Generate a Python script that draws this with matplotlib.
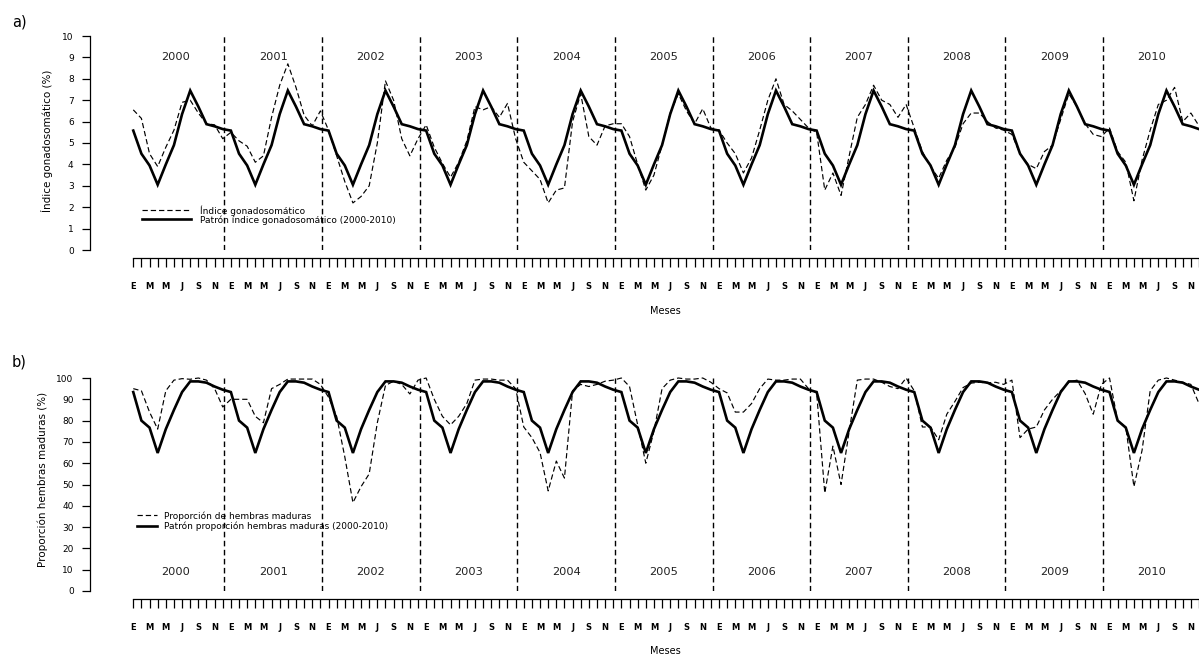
import numpy as np
import matplotlib
matplotlib.use('Agg')
import matplotlib.pyplot as plt
from matplotlib.lines import Line2D

# ---------------- data ----------------
years = [str(y) for y in range(2000, 2011)]
month_labels = ['E', 'M', 'M', 'J', 'S', 'N']          # labels shown every two months

# a) gonadosomatic index (%)
gsi_pattern = [5.58, 4.5, 3.95, 3.05, 4.0, 4.9, 6.35, 7.45, 6.7, 5.88, 5.78, 5.65]
gsi_obs = [
    6.55, 6.15, 4.5, 3.9, 4.8, 5.6, 6.9, 7.0, 6.4, 5.9, 5.85, 5.2,    # 2000
    5.5, 5.1, 4.85, 4.1, 4.4, 6.2, 7.7, 8.7, 7.6, 6.3, 5.8, 6.5,      # 2001
    5.6, 4.4, 3.2, 2.2, 2.5, 3.0, 5.0, 7.9, 7.0, 5.2, 4.4, 5.2,       # 2002
    5.85, 4.8, 4.05, 3.4, 4.1, 5.1, 6.7, 6.55, 6.7, 6.2, 6.85, 5.2,   # 2003
    4.1, 3.7, 3.3, 2.2, 2.8, 2.9, 6.0, 7.3, 5.3, 4.9, 5.8, 5.9,       # 2004
    5.9, 5.3, 4.0, 2.8, 3.5, 4.9, 6.4, 7.3, 6.5, 5.9, 6.6, 5.7,       # 2005
    5.6, 5.0, 4.5, 3.6, 4.3, 5.6, 7.0, 8.0, 6.8, 6.5, 6.1, 5.7,       # 2006
    5.5, 2.8, 3.6, 2.55, 4.4, 6.2, 6.8, 7.7, 7.0, 6.8, 6.2, 6.8,      # 2007
    5.7, 4.6, 3.9, 3.35, 4.2, 4.8, 5.9, 6.4, 6.4, 6.0, 5.7, 5.6,      # 2008
    5.4, 4.5, 4.0, 3.8, 4.6, 4.9, 6.1, 7.3, 6.7, 5.9, 5.4, 5.3,       # 2009
    5.7, 4.6, 4.1, 2.3, 4.2, 5.6, 6.8, 7.0, 7.6, 6.0, 6.4, 5.8,       # 2010
]

# b) proportion of mature females (%)
mat_pattern = [93.4, 80, 76.7, 64.8, 76, 85, 93.4, 98.4, 98.4, 97.8, 96, 94.5]
mat_obs = [
    95, 94, 84, 76, 94, 99, 99.7, 99.4, 100, 99, 95, 86.4,            # 2000
    90, 90, 90, 82, 79, 95, 97, 99.5, 99.5, 99.5, 99.5, 97,           # 2001
    91, 82, 63, 41.5, 49, 55, 79, 96.5, 98.5, 97, 92.5, 99,           # 2002
    100, 90, 82, 78, 82, 88, 99, 99.5, 99.5, 99, 99, 95,              # 2003
    77, 72, 65, 47, 61, 53, 94, 97, 96, 97, 98.5, 99,                 # 2004
    100, 96, 78, 60, 75, 95, 99, 100, 99.5, 99.5, 100, 98,            # 2005
    95, 93, 84, 84, 88, 95, 99.5, 99, 99, 99.5, 99.5, 95,             # 2006
    93, 46, 68, 50, 75, 99, 99.5, 99.5, 98, 96, 95, 100,              # 2007
    94, 77, 77, 71, 83, 89, 95.5, 97.6, 98, 97.7, 98, 97,             # 2008
    99, 72, 76, 77, 85, 90, 94, 98, 99, 92.7, 83, 97,                 # 2009
    100, 80, 77, 49, 66, 94, 99, 100, 99, 98, 97, 88,                 # 2010
]

# ---------------- layout ----------------
W, H = 1199, 655
fig = plt.figure(figsize=(W / 100, H / 100), dpi=100)
PX = 0.72  # points per pixel at 100 dpi

LEFT_PX, RIGHT_PX = 129.2, 1199.0
X0 = -0.5
X1 = X0 + (RIGHT_PX - LEFT_PX) / 8.15


def box(top_px, bottom_px):
    return [LEFT_PX / W, 1 - bottom_px / H, (RIGHT_PX - LEFT_PX) / W, (bottom_px - top_px) / H]


def panel(ax, obs, pattern, ymax, ystep, ylabel, labels, year_y,
          leg_anchor, handlelen, textpad, spacing, ylab_xy, meses_y):
    n = len(obs)
    x = np.arange(n)
    pat = np.tile(pattern, n // 12)
    ax.plot(x, obs, color='black', lw=0.85, ls=(0, (4.5, 2.5)), clip_on=False)
    ax.plot(x, pat, color='black', lw=1.9, clip_on=False, solid_joinstyle='miter')
    for k in range(1, len(years)):
        ax.axvline(12 * k - 0.8, color='black', lw=1.0, ls=(0, (4, 2.5)))
    for k, yr in enumerate(years):
        ax.text(12 * k + 5.2, year_y, yr, ha='center', va='center',
                fontsize=8.2, color='#222222')
    ax.set_xlim(X0, X1)
    ax.set_ylim(0, ymax)
    for s in ('top', 'right'):
        ax.spines[s].set_visible(False)
    ax.spines['left'].set_position(('outward', (LEFT_PX - 90) * PX))
    ax.spines['left'].set_bounds(0, ymax)
    ax.spines['bottom'].set_position(('outward', 8 * PX))
    ax.spines['bottom'].set_bounds(0, n - 1)
    for s in ('left', 'bottom'):
        ax.spines[s].set_linewidth(0.9)
    ax.set_yticks(np.arange(0, ymax + 0.001, ystep))
    ax.tick_params(axis='y', direction='out', length=8 * PX, width=0.9,
                   labelsize=6.5, pad=6)
    ax.set_xticks(np.arange(0, n, 2))
    ax.set_xticks(np.arange(1, n, 2), minor=True)
    ax.set_xticklabels(month_labels * (n // 12), fontsize=6, fontweight='bold')
    ax.tick_params(axis='x', which='both', direction='out', length=9 * PX,
                   width=0.9, pad=11)
    ax.set_xlabel('Meses', fontsize=7)
    ax.xaxis.set_label_coords((665 - LEFT_PX) / (RIGHT_PX - LEFT_PX), meses_y)
    fig.text(ylab_xy[0] / W, 1 - ylab_xy[1] / H, ylabel, rotation=90,
             ha='center', va='center', fontsize=7.5)
    handles = [Line2D([], [], color='black', lw=0.85, ls=(0, (4.5, 2.5))),
               Line2D([], [], color='black', lw=1.9)]
    ax.legend(handles, labels, loc='upper left', bbox_to_anchor=leg_anchor,
              frameon=False, fontsize=6.5, handlelength=handlelen,
              handletextpad=textpad, labelspacing=spacing,
              borderpad=0, borderaxespad=0)


ax1 = fig.add_axes(box(36, 250))
panel(ax1, gsi_obs, gsi_pattern, 10, 1, 'Índice gonadosomático (%)',
      ['Índice gonadosomático', 'Patrón índice gonadosomático (2000-2010)'],
      9.0, ((142 - LEFT_PX) / (RIGHT_PX - LEFT_PX), 0.21), 5.4, 1.0, -0.05,
      (47, 141), -0.262)

ax2 = fig.add_axes(box(378, 591))
panel(ax2, mat_obs, mat_pattern, 100, 10, 'Proporción hembras maduras (%)',
      ['Proporción de hembras maduras', 'Patrón proporción hembras maduras (2000-2010)'],
      9.0, ((137 - LEFT_PX) / (RIGHT_PX - LEFT_PX), 0.375), 2.2, 0.8, 0.1,
      (43, 479), -0.258)

fig.text(12 / W, 1 - 22 / H, 'a)', fontsize=10.5, ha='left', va='center')
fig.text(12 / W, 1 - 362 / H, 'b)', fontsize=10.5, ha='left', va='center')

fig.savefig('out.png', dpi=100)
